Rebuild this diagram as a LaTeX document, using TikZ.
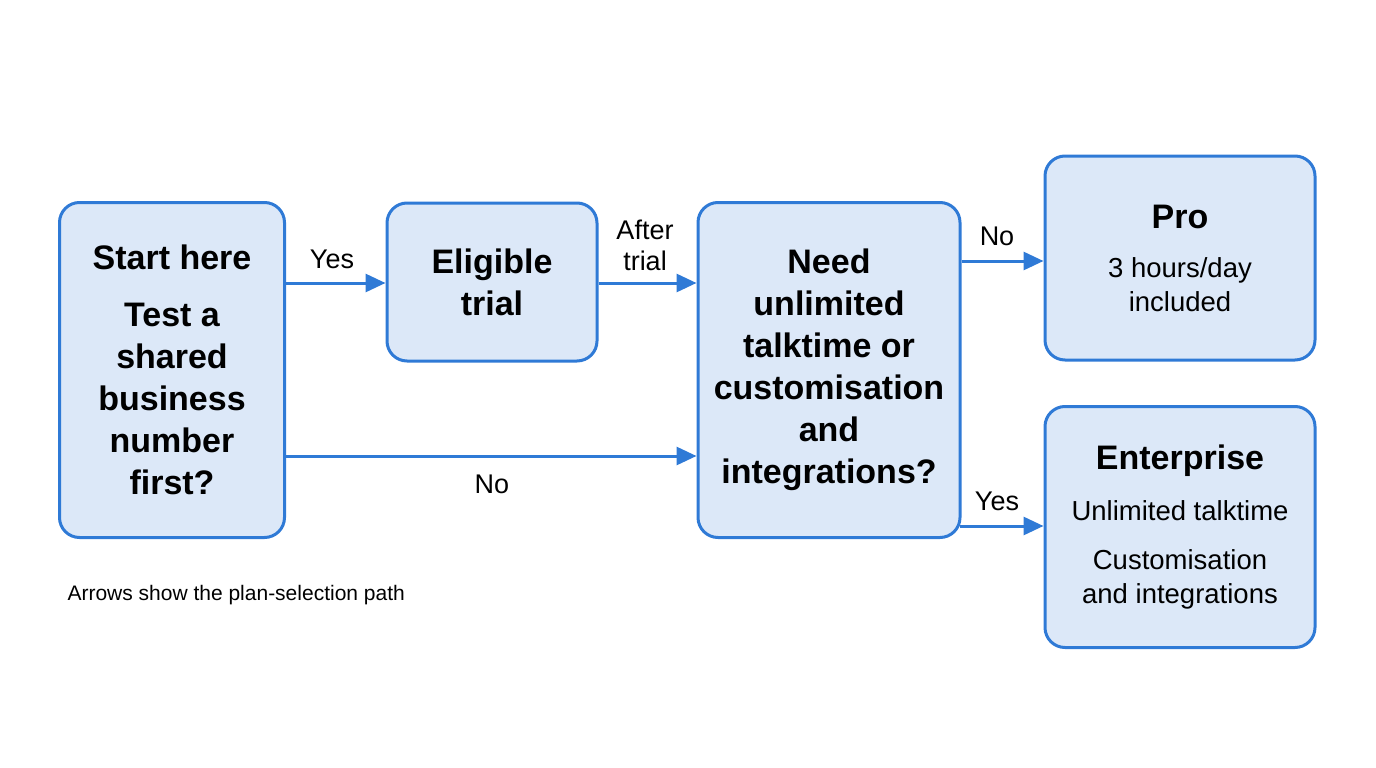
\documentclass[tikz,border=0pt]{standalone}
\usepackage{fontspec}
\setmainfont{Liberation Sans}
\usetikzlibrary{arrows.meta}
\definecolor{bfill}{HTML}{DCE8F8}
\definecolor{bline}{HTML}{2F7AD6}
\newcommand{\tfont}{\fontsize{34}{34}\selectfont\bfseries}
\newcommand{\bfont}{\fontsize{27.5}{34}\selectfont\mdseries}
\begin{document}
\begin{tikzpicture}[x=1pt,y=-1pt,
 box/.style={draw=bline,fill=bfill,line width=3pt,rounded corners=20pt,align=center,inner sep=0pt},
 big/.style={font=\fontsize{34}{42}\selectfont\bfseries},
 arr/.style={draw=bline,line width=3pt,-{Triangle[length=20pt,width=18pt]}},
 lab/.style={font=\fontsize{27}{31}\selectfont,align=center}]
\useasboundingbox (0,0) rectangle (1376,768);
\node[box,big,minimum width=225pt,minimum height=335pt] (start) at (172,370) {Start here\\[15pt]Test a\\shared\\business\\number\\first?};
\node[box,big,minimum width=210pt,minimum height=158pt] (eli) at (492,282) {Eligible\\trial};
\node[box,big,minimum width=262pt,minimum height=335pt] (need) at (829,370) {Need\\unlimited\\talktime or\\customisation\\and\\integrations?};
\node[box,font=\bfont,minimum width=270pt,minimum height=204pt] (pro) at (1180,258) {\tfont Pro\\[15pt]\bfont 3 hours/day\\\bfont included};
\node[box,font=\bfont,minimum width=270pt,minimum height=241pt] (ent) at (1180,527) {\tfont Enterprise\\[17pt]\bfont Unlimited talktime\\[15pt]\bfont Customisation\\\bfont and integrations};
\draw[arr] ([yshift=87pt]start.east) -- (eli.west |- 0,283);
\draw[arr] (eli.east |- 0,283) -- (need.west |- 0,283);
\draw[arr] ([yshift=-86pt]start.east) -- ([yshift=-86pt]need.west);
\draw[arr] ([yshift=109pt]need.east) -- ([yshift=-3pt]pro.west);
\draw[arr] ([yshift=-156pt,xshift=-2pt]need.east) -- ([yshift=1pt]ent.west);
\node[lab] (l1) at (332,259) {Yes};
\node[lab] (l2) at (645,245) {After\\trial};
\node[lab] (l3) at (492,484) {No};
\node[lab] (l4) at (997,236) {No};
\node[lab] (l5) at (997,501) {Yes};
\node[anchor=west,font=\fontsize{21}{25}\selectfont] (cap) at (64,595) {Arrows show the plan-selection path};
\end{tikzpicture}
\end{document}
